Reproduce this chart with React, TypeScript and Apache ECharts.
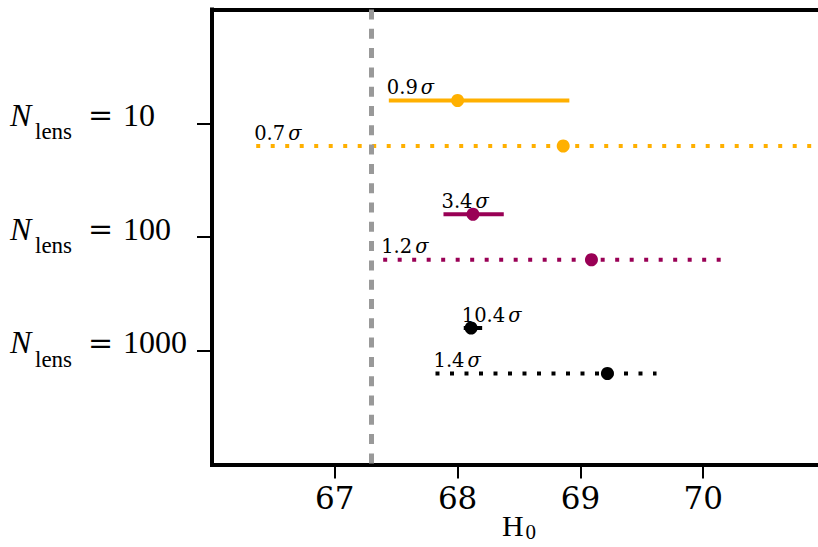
import React, { useEffect, useRef } from 'react';
import * as echarts from 'echarts';

// Lens sample sizes, one row each (top to bottom)
const sampleSizes = ['10', '100', '1000'];
const rowPositions = [1, 2, 3];
const rowColors = ['#FFB000', '#990055', '#000000'];

// Upper (solid) constraint per row: best value and interval
const tightCenter = [68.0, 68.125, 68.11];
const tightLow = [67.44, 67.885, 68.05];
const tightHigh = [68.91, 68.376, 68.2];
const tightSigma = ['0.9', '3.4', '10.4'];

// Lower (dotted) constraint per row
const broadCenter = [68.86, 69.09, 69.22];
const broadLow = [66.36, 67.394, 67.82];
const broadHigh = [71.36, 70.16, 69.62];
const broadSigma = ['0.7', '1.2', '1.4'];

const referenceH0 = 67.3;
const xTicks = [67, 68, 69, 70];
const rowOffset = 0.2;

type Bar = { low: number; high: number; center: number; y: number; row: number; dotted: boolean; sigma: string };

const bars: Bar[] = [];
rowPositions.forEach((pos, i) => {
  bars.push({ low: tightLow[i], high: tightHigh[i], center: tightCenter[i], y: pos - rowOffset, row: i, dotted: false, sigma: tightSigma[i] });
  bars.push({ low: broadLow[i], high: broadHigh[i], center: broadCenter[i], y: pos + rowOffset, row: i, dotted: true, sigma: broadSigma[i] });
});

const sigmaRich = {
  n: { fontFamily: 'DejaVu Serif', fontSize: 19.5, fill: '#000' },
  s: { fontFamily: 'DejaVu Serif', fontStyle: 'italic', fontSize: 19.5, fill: '#000', padding: [0, 0, 0, 3] },
};

export default function App() {
  const ref = useRef<HTMLDivElement>(null);

  useEffect(() => {
    if (!ref.current) return;
    const chart = echarts.init(ref.current, null, { renderer: 'svg' });

    const option: any = {
      animation: false,
      backgroundColor: '#ffffff',
      grid: { left: 212, top: 9.5, right: 4, bottom: 82.5, containLabel: false, outerBoundsMode: 'none' },
      xAxis: [
        {
          type: 'value',
          min: 66,
          max: 71,
          interval: 1,
          position: 'bottom',
          axisLine: { onZero: false, lineStyle: { color: '#000', width: 4, cap: 'square' } },
          axisTick: { customValues: xTicks, length: 14, lineStyle: { color: '#000', width: 2 } },
          axisLabel: {
            customValues: xTicks,
            fontFamily: 'DejaVu Serif',
            fontSize: 31,
            color: '#000',
            margin: 18,
          },
          splitLine: { show: false },
          name: '{h|H}{z|0}',
          nameLocation: 'middle',
          nameGap: 49,
          nameMoveOverlap: false,
          nameTextStyle: {
            rich: {
              h: { fontFamily: 'Liberation Serif', fontSize: 30, color: '#000', lineHeight: 30, padding: [0, 0, 6, 0] },
              z: { fontFamily: 'Liberation Serif', fontSize: 21, color: '#000', lineHeight: 30, padding: [6, 0, 0, 2] },
            },
          },
        },
        {
          type: 'value',
          min: 66,
          max: 71,
          position: 'top',
          axisLine: { onZero: false, lineStyle: { color: '#000', width: 4, cap: 'square' } },
          axisTick: { show: false },
          axisLabel: { show: false },
          splitLine: { show: false },
        },
      ],
      yAxis: {
        type: 'value',
        min: 0,
        max: 4,
        interval: 1,
        inverse: true,
        axisLine: { show: true, onZero: false, lineStyle: { color: '#000', width: 4, cap: 'square' } },
        axisTick: { show: true, customValues: rowPositions, length: 15, lineStyle: { color: '#000', width: 2 } },
        axisLabel: {
          customValues: rowPositions,
          align: 'left',
          margin: 202,
          formatter: (v: number) => `{n|N}{s|lens}{e|=}{v|${sampleSizes[Math.round(v) - 1]}}`,
          rich: {
            n: { fontFamily: 'Liberation Serif', fontStyle: 'italic', fontSize: 32, color: '#000', width: 25, lineHeight: 34, padding: [0, 0, 17, 0] },
            s: { fontFamily: 'Liberation Serif', fontSize: 23, color: '#000', width: 53, lineHeight: 34, padding: [17, 0, 0, 0] },
            e: { fontFamily: 'DejaVu Serif', fontSize: 30, color: '#000', width: 35, lineHeight: 34, padding: [0, 0, 17, 0] },
            v: { fontFamily: 'Liberation Serif', fontSize: 32, color: '#000', lineHeight: 34, padding: [0, 0, 17, 0] },
          },
        },
        splitLine: { show: false },
      },
      series: [
        {
          // reference value
          type: 'line',
          data: [],
          z: 1,
          markLine: {
            silent: true,
            symbol: ['none', 'none'],
            label: { show: false },
            lineStyle: { color: '#999999', width: 5, type: [10, 9.3] },
            data: [{ xAxis: referenceH0 }],
          },
        },
        {
          type: 'custom',
          z: 2,
          clip: true,
          data: bars.map((b) => [b.low, b.high, b.y]),
          encode: { x: [0, 1], y: 2 },
          renderItem: (params: any, api: any) => {
            const b = bars[params.dataIndex];
            const p0 = api.coord([api.value(0), api.value(2)]);
            const p1 = api.coord([api.value(1), api.value(2)]);
            return {
              type: 'group',
              children: [
                {
                  type: 'line',
                  shape: { x1: p0[0], y1: p0[1], x2: p1[0], y2: p1[1] },
                  style: {
                    stroke: rowColors[b.row],
                    lineWidth: 4,
                    lineDash: b.dotted ? [4, 10.5] : null,
                    lineCap: 'butt',
                  },
                },
                {
                  type: 'text',
                  x: p0[0] - 2,
                  y: p0[1] - 3,
                  style: {
                    text: `{n|${b.sigma}}{s|σ}`,
                    rich: sigmaRich,
                    align: 'left',
                    verticalAlign: 'bottom',
                    fill: '#000',
                  },
                },
              ],
            };
          },
        },
        {
          type: 'scatter',
          z: 3,
          symbol: 'circle',
          symbolSize: 13,
          itemStyle: { opacity: 1 },
          data: bars.map((b) => ({ value: [b.center, b.y], itemStyle: { color: rowColors[b.row], opacity: 1 } })),
        },
      ],
    };

    chart.setOption(option);
    return () => chart.dispose();
  }, []);

  return (
    <div style={{ position: 'fixed', left: 0, top: 0, width: 818, height: 547, overflow: 'hidden', background: '#fff' }}>
      <div ref={ref} style={{ width: 830, height: 547 }} />
    </div>
  );
}
